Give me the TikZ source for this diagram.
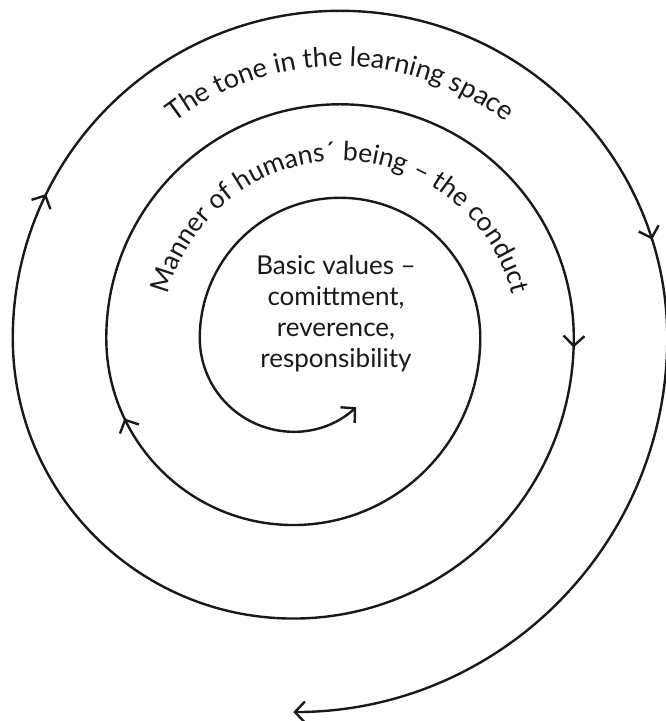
\documentclass[tikz,border=0pt]{standalone}
\usepackage{fontspec}
\setmainfont{Lato}
\usetikzlibrary{arrows.meta,decorations.markings,decorations.text}
\begin{document}
\begin{tikzpicture}[x=1pt,y=1pt,
  >={Straight Barb[length=10pt,width=21pt]},
  spiral/.style={line width=2.4pt, line cap=butt, line join=miter, draw=black!90},
  ringtext/.style={decorate, decoration={text along path, text align=center, text={#1}}},
  coretext/.style={font=\fontsize{26}{31}\selectfont, align=center, inner sep=0pt, text=black!90}
]
\useasboundingbox (0,0) rectangle (665,721);
\coordinate (A) at (340,383);
\coordinate (B) at (293.25,383);
\coordinate (spiralstart) at (356.2,313.8);
% spiral
\draw[spiral, <->, postaction={decorate},
  decoration={markings,
    mark=at position 1161pt with {\arrow{>}},
    mark=at position 1988pt with {\arrow{>}},
    mark=at position 3009pt with {\arrow{>}},
    mark=at position 3788pt with {\arrow{>}}}]
  (spiralstart)
  arc[start angle=-47.7, end angle=-180, radius=93.5]
  arc[start angle=180, end angle=0, radius=140.25]
  arc[start angle=0, end angle=-180, radius=187]
  arc[start angle=180, end angle=0, radius=233.75]
  arc[start angle=0, end angle=-180, radius=280.5]
  arc[start angle=180, end angle=0, radius=327.25]
  arc[start angle=0, end angle=-90, radius=374];
% curved labels
\path[ringtext={|\fontsize{27}{27}\selectfont\color{black!90}|The tone in the learning space}]
  (A) ++(180:272) arc[start angle=180, end angle=0, radius=272];
\path[ringtext={|\fontsize{26.5}{26.5}\selectfont\color{black!90}|Manner of humans´ being – the conduct}]
  (A) ++(180:177) arc[start angle=180, end angle=0, radius=177];
% centre text
\node[coretext] (core) at (336,407) {Basic values –\\comittment,\\reverence,\\responsibility};
\end{tikzpicture}
\end{document}
